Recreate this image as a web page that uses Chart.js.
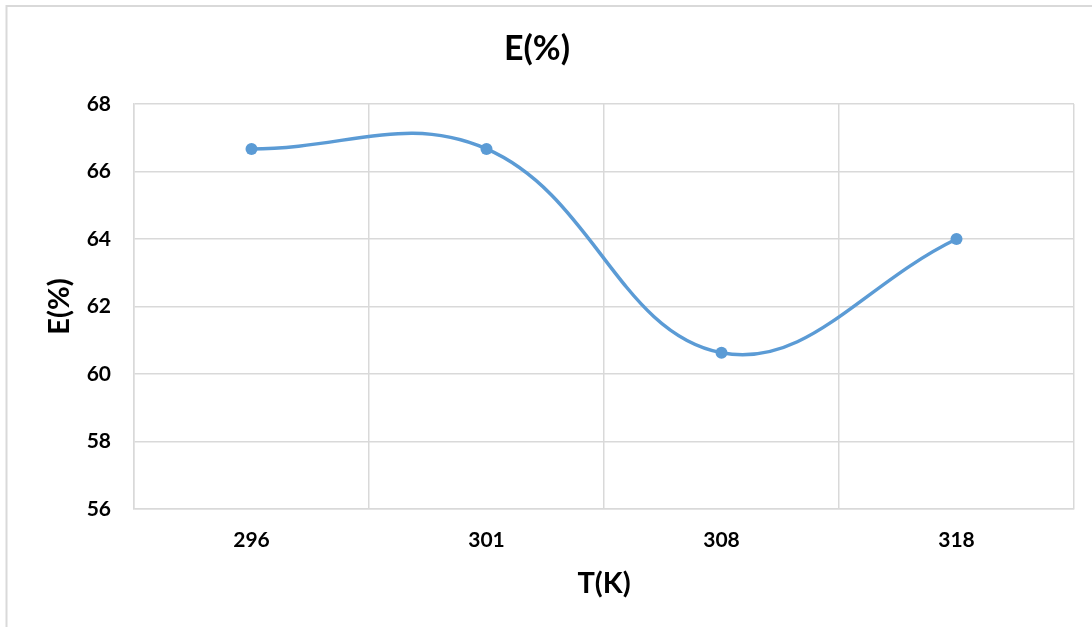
<!DOCTYPE html>
<html>
<head>
<meta charset="utf-8">
<script src="https://cdn.jsdelivr.net/npm/chart.js@4"></script>
<style>
  html, body { margin: 0; padding: 0; background: #ffffff; }
  #wrap { position: absolute; left: 0; top: 0; width: 1092px; height: 627px; }
</style>
</head>
<body>
<div id="wrap"><canvas id="c" width="1092" height="627"></canvas></div>
<script>
// ---- data ----
const categories = ['296', '301', '308', '318'];
const eValues = [66.67, 66.67, 60.63, 64.0];
const yMin = 56;
const yMax = 68;
const yStep = 2;
const chartTitle = 'E(%)';
const xTitle = 'T(K)';
const yTitle = 'E(%)';

const gridColor = '#d9d9d9';
const lineColor = '#5b9bd5';
const fontFamily = 'Lato, "Open Sans", sans-serif';

const frame = {
  id: 'frame',
  beforeDraw(chart) {
    const ctx = chart.ctx;
    ctx.save();
    ctx.fillStyle = '#ffffff';
    ctx.fillRect(0, 0, chart.width, chart.height);
    ctx.strokeStyle = '#d9d9d9';
    ctx.lineWidth = 2;
    ctx.beginPath();
    ctx.moveTo(6.5, chart.height);
    ctx.lineTo(6.5, 6);
    ctx.lineTo(chart.width, 6);
    ctx.stroke();
    ctx.restore();
  }
};

new Chart(document.getElementById('c'), {
  type: 'line',
  data: {
    labels: categories,
    datasets: [{
      label: yTitle,
      data: eValues,
      borderColor: lineColor,
      backgroundColor: lineColor,
      borderWidth: 3.5,
      tension: 0.4,
      pointRadius: 6,
      pointHoverRadius: 6,
      pointBackgroundColor: lineColor,
      pointBorderColor: lineColor,
      pointBorderWidth: 0,
      fill: false
    }]
  },
  plugins: [frame],
  options: {
    responsive: false,
    animation: false,
    devicePixelRatio: 1,
    layout: { padding: { left: 0, right: 18, top: 0, bottom: 0 } },
    plugins: {
      legend: { display: false },
      tooltip: { enabled: false },
      title: {
        display: true,
        text: chartTitle,
        color: '#000',
        font: { family: fontFamily, size: 34, weight: 'bold', lineHeight: 1.2 },
        padding: { top: 28.6, bottom: 34.6 }
      }
    },
    scales: {
      x: {
        type: 'category',
        offset: true,
        grid: { offset: true, color: gridColor, lineWidth: 1.5, drawTicks: false },
        border: { display: true, color: gridColor, width: 1.5 },
        ticks: {
          color: '#000',
          padding: 19,
          font: { family: fontFamily, size: 21, weight: 'bold', lineHeight: 1.2 }
        },
        title: {
          display: true,
          text: xTitle,
          color: '#000',
          font: { family: fontFamily, size: 29, weight: 'bold', lineHeight: 1.2 },
          padding: { top: 0, bottom: 26 }
        },
        afterFit(scale) { scale.height = 118; }
      },
      y: {
        min: yMin,
        max: yMax,
        grid: { color: gridColor, lineWidth: 1.5, drawTicks: false },
        border: { display: true, color: gridColor, width: 1.5 },
        ticks: {
          stepSize: yStep,
          color: '#000',
          padding: 23,
          font: { family: fontFamily, size: 21, weight: 'bold', lineHeight: 1.2 }
        },
        title: {
          display: true,
          text: yTitle,
          color: '#000',
          font: { family: fontFamily, size: 29, weight: 'bold', lineHeight: 1.2 },
          padding: { top: 42.6, bottom: 0 }
        },
        afterFit(scale) { scale.width = 134; }
      }
    }
  }
});
</script>
</body>
</html>
